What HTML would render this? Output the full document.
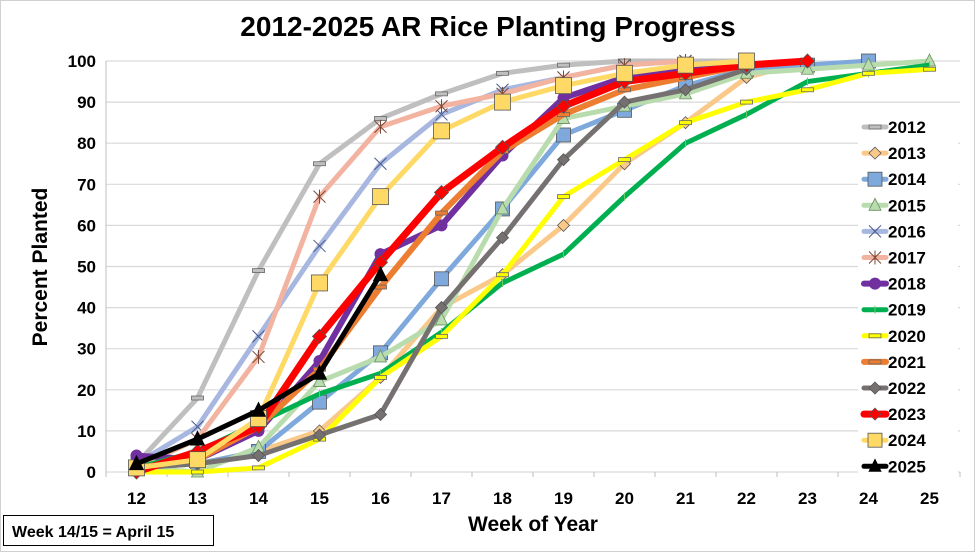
<!DOCTYPE html>
<html><head><meta charset="utf-8"><style>
body{margin:0;background:#fff;font-family:"Liberation Sans",Arial,sans-serif}
svg text{font-family:"Liberation Sans",Arial,sans-serif;font-weight:bold}
</style></head><body>
<svg id="chart" width="975" height="552" xmlns="http://www.w3.org/2000/svg">
<rect x="0.5" y="0.5" width="974" height="551" fill="#fff" stroke="#d0d0d0"/>
<text x="488" y="36" text-anchor="middle" font-size="28" fill="#000">2012-2025 AR Rice Planting Progress</text>
<g id="grid"></g>
<g id="series"></g>
<g id="legend"></g>
<text transform="translate(47,267) rotate(-90)" text-anchor="middle" font-size="21">Percent Planted</text>
<text x="533" y="531" text-anchor="middle" font-size="21">Week of Year</text>
<rect x="3.5" y="515.5" width="210" height="30" fill="#fff" stroke="#000"/>
<text x="12" y="537" font-size="16">Week 14/15 = April 15</text>
</svg>
<script>
const weeks=[12,13,14,15,16,17,18,19,20,21,22,23,24,25];
const yTicks=[0,10,20,30,40,50,60,70,80,90,100];
const years=["2012","2013","2014","2015","2016","2017","2018","2019","2020","2021","2022","2023","2024","2025"];
const s2012=[2,18,49,75,86,92,97,99,100,100,100];
const s2013=[1,2,5,10,23,40,48,60,75,85,96,100];
const s2014=[1,2,5,17,29,47,64,82,88,94,98,99,100];
const s2015=[1,0,6,22,28,37,64,86,89,92,97,98,99,100];
const s2016=[2,11,33,55,75,87,93,96,99,100];
const s2017=[1,8,28,67,84,89,92,96,99,100];
const s2018=[4,3,10,27,53,60,77,91,96,98,99];
const s2019=[1,5,12,19,24,34,46,53,67,80,87,95,97,99];
const s2020=[0,0,1,8,23,33,48,67,76,85,90,93,97,98];
const s2021=[1,3,11,25,45,63,78,87,93,96,99];
const s2022=[1,2,4,9,14,40,57,76,90,93,98];
const s2023=[0,5,11,33,51,68,79,89,95,97,99,100];
const s2024=[1,3,13,46,67,83,90,94,97,99,100];
const s2025=[2,8,15,24,48];
const allSeries=[s2012,s2013,s2014,s2015,s2016,s2017,s2018,s2019,s2020,s2021,s2022,s2023,s2024,s2025];
const colors=["#bfbfbf","#fac98a","#7fa9dc","#b9dcae","#a7b7e0","#f2b4a0","#7030a0","#00b050","#ffff00","#ed7d31","#767171","#ff0000","#ffd966","#000000"];
const widths=[5,5,5,5,5,5,6,5,5,6,5,7,5,5];
const markers=["dash","diamond","square","triangle","x","star","circle","plus","dash","dash","diamond","diamond","square","triangle"];
const X0=106,X1=960,Y0=472,Y1=61;
const step=(X1-X0)/weeks.length;
function xs(i){return X0+step*(i+0.5);}
function ys(v){return Y0-(v/100)*(Y0-Y1);}
const NS="http://www.w3.org/2000/svg";
function mk(tag,attrs,parent){const e=document.createElementNS(NS,tag);for(const k in attrs)e.setAttribute(k,attrs[k]);parent.appendChild(e);return e;}
const grid=document.getElementById('grid');
yTicks.forEach(t=>{
  const l=mk('line',{x1:X0,x2:X1,y1:ys(t),y2:ys(t),stroke:'#d9d9d9','stroke-width':1.2},grid);
  
  
  const tx=mk('text',{x:X0-10,y:ys(t)+6,'text-anchor':'end','font-size':17},grid);
  tx.textContent=t;
  
  
});
mk('line',{x1:X0,x2:X0,y1:Y1,y2:Y0,stroke:'#bfbfbf'},grid);
weeks.forEach((w,i)=>{
  mk('line',{x1:X0+step*i,x2:X0+step*i,y1:Y0,y2:Y0+5,stroke:'#bfbfbf'},grid);
  const tx=mk('text',{x:xs(i),y:504,'text-anchor':'middle','font-size':17},grid);
  tx.textContent=w;
  
  
});
mk('line',{x1:X1,x2:X1,y1:Y0,y2:Y0+5,stroke:'#bfbfbf'},grid);
function marker(type,x,y,col,g,big){
  const s=big?7:6;const st='#555';
  let e;
  if(type==='dash')e=mk('rect',{x:x-6,y:y-2,width:12,height:4,fill:col,stroke:'#666','stroke-width':0.8},g);
  else if(type==='diamond')e=mk('polygon',{points:`${x},${y-s} ${x+s},${y} ${x},${y+s} ${x-s},${y}`,fill:col,stroke:st,'stroke-width':0.8},g);
  else if(type==='square')e=mk('rect',{x:x-s-1,y:y-s-1,width:2*s+2,height:2*s+2,fill:col,stroke:st,'stroke-width':0.8},g);
  else if(type==='triangle')e=mk('polygon',{points:`${x},${y-s-1} ${x+s},${y+s-1} ${x-s},${y+s-1}`,fill:col,stroke:col==='#000000'?'#000':'#6a8f5f','stroke-width':0.8},g);
  else if(type==='x')e=mk('path',{d:`M${x-6},${y-6}L${x+6},${y+6}M${x-6},${y+6}L${x+6},${y-6}`,stroke:'#4a5a90','stroke-width':1},g);
  else if(type==='star')e=mk('path',{d:`M${x-6},${y-6}L${x+6},${y+6}M${x-6},${y+6}L${x+6},${y-6}M${x},${y-7}L${x},${y+7}`,stroke:'#7a4a3a','stroke-width':1},g);
  else if(type==='circle')e=mk('circle',{cx:x,cy:y,r:6,fill:col},g);
  else e=mk('path',{d:`M${x},${y-4}L${x},${y+4}`,stroke:'#6c6','stroke-width':1},g);
  return e;
}
const sg=document.getElementById('series');
allSeries.forEach((arr,k)=>{
  const g=mk('g',{},sg);
  
  
  const pts=arr.map((v,i)=>xs(i)+','+ys(v)).join(' ');
  const pl=mk('polyline',{points:pts,fill:'none',stroke:colors[k],'stroke-width':widths[k],'stroke-linejoin':'round'},g);
  
  
  arr.forEach((v,i)=>{
    const m=marker(markers[k],xs(i),ys(v),colors[k],g,k>=11);
    
    
  });
});
const lg=document.getElementById('legend');
mk('rect',{x:858,y:114,width:100,height:364,fill:'#fff'},lg);
years.forEach((yr,k)=>{
  const y=127+k*26.1;
  const g=mk('g',{},lg);
  
  
  mk('line',{x1:864,x2:886,y1:y,y2:y,stroke:colors[k],'stroke-width':widths[k],'stroke-linecap':'round'},g);
  marker(markers[k],875,y,colors[k],g,false);
  const t=mk('text',{x:888,y:y+6,'font-size':17},g);
  t.textContent=yr;
});
</script>
</body></html>
